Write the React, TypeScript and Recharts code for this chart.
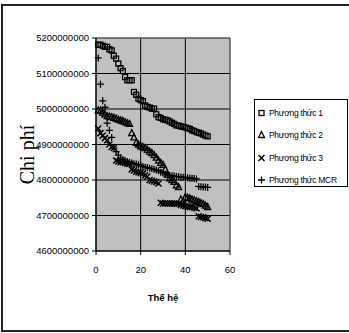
import {
  CartesianGrid,
  Legend,
  ReferenceLine,
  Scatter,
  ScatterChart,
  XAxis,
  YAxis,
} from "recharts";

const generations = [
  1, 2, 3, 4, 5, 6, 7, 8, 9, 10, 11, 12, 13, 14, 15, 16, 17, 18, 19, 20, 21, 22, 23, 24, 25,
  26, 27, 28, 29, 30, 31, 32, 33, 34, 35, 36, 37, 38, 39, 40, 41, 42, 43, 44, 45, 46, 47, 48,
  49, 50,
];

// cost values in millions
const method1 = [
  5181, 5181, 5178, 5175, 5175, 5168, 5165, 5150, 5142, 5128, 5115, 5107, 5090, 5081, 5081,
  5081, 5048, 5040, 5029, 5025, 5022, 5010, 5006, 5004, 5001, 5001, 4985, 4977, 4975, 4971,
  4970, 4968, 4965, 4961, 4958, 4954, 4953, 4951, 4950, 4948, 4946, 4944, 4940, 4938, 4935,
  4933, 4931, 4928, 4925, 4923,
];
const method2 = [
  4996, 4995, 4990, 4985, 4980, 4978, 4977, 4975, 4973, 4970, 4968, 4966, 4963, 4960, 4958,
  4932, 4920, 4905, 4900, 4895, 4893, 4890, 4885, 4880, 4876, 4870, 4863, 4855, 4848, 4843,
  4830, 4815, 4805, 4800, 4795, 4785, 4780, 4745, 4740, 4752, 4750, 4748, 4745, 4743, 4740,
  4738, 4735, 4732, 4728, 4724,
];
const method3 = [
  4945, 4932, 4925, 4918, 4912, 4900, 4893, 4890, 4855, 4852, 4850, 4850, 4848, 4846, 4845,
  4830, 4827, 4823, 4822, 4820, 4818, 4813, 4810, 4800, 4798, 4796, 4794, 4790, 4736, 4734,
  4734, 4734, 4734, 4734, 4734, 4733, 4733, 4730, 4728, 4726, 4725, 4724, 4724, 4722, 4720,
  4698, 4696, 4695, 4692, 4691,
];
const methodMCR = [
  5144, 5070, 5023, 5005, 4960, 4940, 4920, 4890, 4880, 4870, 4862, 4858, 4855, 4852, 4850,
  4848, 4846, 4845, 4843, 4840, 4838, 4836, 4835, 4833, 4832, 4830, 4828, 4826, 4822, 4820,
  4817, 4815, 4813, 4812, 4811, 4810, 4809, 4808, 4808, 4807, 4806, 4805, 4805, 4804, 4803,
  4782, 4781, 4780, 4780, 4779,
];

const seriesNames = ["Phương thức 1", "Phương thức 2", "Phương thức 3", "Phương thức MCR"];
const xTicks = [0, 20, 40, 60];
const yTicks = [
  4600000000, 4700000000, 4800000000, 4900000000, 5000000000, 5100000000, 5200000000,
];

const toPoints = (vals: number[]) =>
  generations.map((g, i) => ({ x: g, y: vals[i] * 1000000 }));

const FONT = "'Liberation Sans', Arial, sans-serif";

type MarkProps = { cx?: number; cy?: number };

const SquareMark = ({ cx = 0, cy = 0 }: MarkProps) => (
  <rect x={cx - 2.5} y={cy - 2.5} width={5} height={5} fill="none" stroke="#000" strokeWidth={1.3} />
);
const TriangleMark = ({ cx = 0, cy = 0 }: MarkProps) => (
  <path
    d={`M${cx},${cy - 3.5}L${cx + 3},${cy + 2.5}L${cx - 3},${cy + 2.5}Z`}
    fill="none"
    stroke="#000"
    strokeWidth={1.3}
  />
);
const XMark = ({ cx = 0, cy = 0 }: MarkProps) => (
  <path
    d={`M${cx - 3},${cy - 3}L${cx + 3},${cy + 3}M${cx - 3},${cy + 3}L${cx + 3},${cy - 3}`}
    stroke="#000"
    strokeWidth={1.5}
  />
);
const PlusMark = ({ cx = 0, cy = 0 }: MarkProps) => (
  <path
    d={`M${cx - 3.5},${cy}L${cx + 3.5},${cy}M${cx},${cy - 3.5}L${cx},${cy + 3.5}`}
    stroke="#000"
    strokeWidth={1.3}
  />
);

const marks = [SquareMark, TriangleMark, XMark, PlusMark];
const seriesData = [method1, method2, method3, methodMCR];

function LegendBox() {
  return (
    <div
      style={{
        width: 94,
        height: 88,
        boxSizing: "border-box",
        border: "1px solid #000",
        background: "#fff",
        paddingTop: 1.5,
        fontFamily: FONT,
        fontSize: 8.5,
        letterSpacing: -0.3,
        color: "#000",
      }}
    >
      {seriesNames.map((name, i) => {
        const Mark = marks[i];
        return (
          <div key={name} style={{ display: "flex", alignItems: "center", height: 22.5 }}>
            <svg width={13} height={10} style={{ flex: "none" }}>
              <Mark cx={6.5} cy={5} />
            </svg>
            <span style={{ marginLeft: 1, whiteSpace: "nowrap" }}>{name}</span>
          </div>
        );
      })}
    </div>
  );
}

export default function App() {
  return (
    <div style={{ position: "absolute", left: 0, top: 0, width: 349, height: 333, background: "#fff", overflow: "hidden" }}>
      <div
        style={{
          position: "absolute",
          left: 1,
          top: 4,
          width: 360,
          height: 328,
          boxSizing: "border-box",
          border: "2px solid #222",
        }}
      />
      <ScatterChart
        width={349}
        height={333}
        margin={{ top: 38, right: 119, bottom: 27, left: 0 }}
        style={{ position: "absolute", left: 0, top: 0 }}
      >
        <CartesianGrid stroke="#000" fill="#c0c0c0" fillOpacity={1} />
        <XAxis
          dataKey="x"
          type="number"
          domain={[0, 60]}
          ticks={xTicks}
          height={55}
          tickSize={4}
          tickMargin={11}
          axisLine={{ stroke: "#000" }}
          tickLine={{ stroke: "#000" }}
          tick={{ fontSize: 9.5, fill: "#000", fontFamily: FONT }}
          label={{
            value: "Thế hệ",
            position: "insideBottom",
            offset: 5,
            style: { fontSize: 9.5, fontWeight: "bold", fill: "#000", fontFamily: FONT },
          }}
        />
        <YAxis
          dataKey="y"
          type="number"
          domain={[4600000000, 5200000000]}
          ticks={yTicks}
          width={96}
          tickSize={4}
          tickMargin={3}
          allowDataOverflow
          axisLine={{ stroke: "#000" }}
          tickLine={{ stroke: "#000" }}
          tick={{ fontSize: 9.5, fill: "#000", fontFamily: FONT }}
          tickFormatter={(v) => String(v)}
          label={{
            content: (props: any) => {
              const vb = props.viewBox || { x: 0, y: 0, height: 0 };
              const x = vb.x + 27;
              const y = vb.y + vb.height / 2 + 10;
              return (
                <text
                  x={x}
                  y={y}
                  transform={`rotate(-90 ${x} ${y})`}
                  textAnchor="middle"
                  dominantBaseline="central"
                  fontFamily="'Liberation Serif', 'Times New Roman', serif"
                  fontSize={20}
                  fill="#000"
                >
                  Chi phí
                </text>
              );
            },
          }}
        />
        <ReferenceLine y={5200000000} stroke="#808080" />
        <ReferenceLine x={60} stroke="#808080" />
        <Legend
          layout="vertical"
          align="center"
          verticalAlign="middle"
          wrapperStyle={{ position: "absolute", left: 254, top: 99, width: 94, height: 88 }}
          content={() => <LegendBox />}
        />
        {seriesNames.map((name, i) => (
          <Scatter
            key={name}
            name={name}
            data={toPoints(seriesData[i])}
            fill="#000"
            shape={marks[i] as any}
            isAnimationActive={false}
          />
        ))}
      </ScatterChart>
    </div>
  );
}
